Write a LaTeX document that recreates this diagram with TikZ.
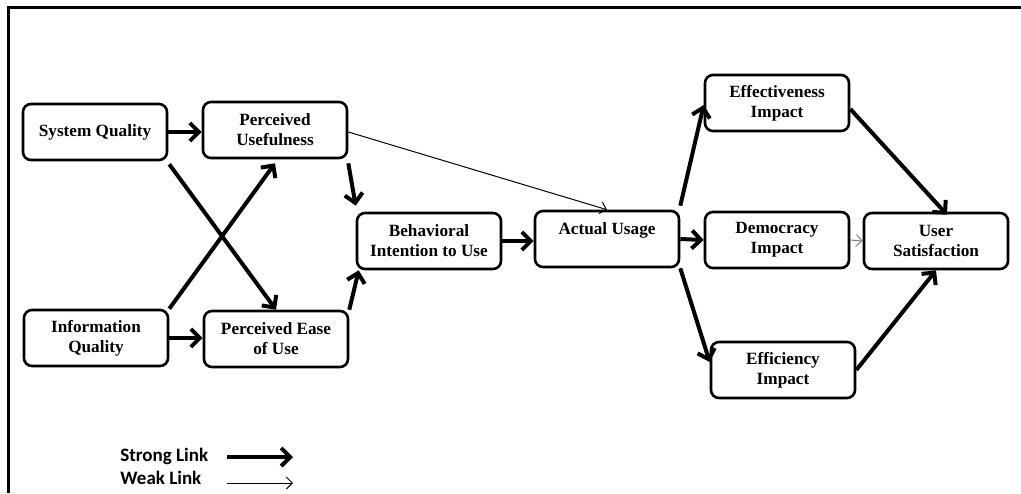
\documentclass[tikz,border=0pt]{standalone}
\usepackage{fontspec}
\setmainfont{Liberation Serif}
\newfontfamily\legendfont{Carlito}
\usetikzlibrary{arrows.meta}
\begin{document}
\begin{tikzpicture}[x=0.5pt,y=-0.5pt,
  box/.style={draw, line width=1.3pt, rounded corners=4pt, minimum width=72pt, minimum height=28pt,
    align=center, inner sep=1pt, font=\fontsize{8.6}{10}\selectfont\bfseries},
  strong/.style={line width=2pt, -{Straight Barb[length=4.5pt,width=9pt,line width=2pt]}},
  weak/.style={line width=0.5pt, -{Straight Barb[length=3pt,width=6pt,line width=0.5pt]}},
  legtext/.style={anchor=west, inner sep=0pt, font=\legendfont\fontsize{9.5}{11}\selectfont\bfseries}]
\useasboundingbox (0,0) rectangle (1021,493);
% frame
\draw[line width=1.5pt] (8,493) -- (8,7) -- (1021,7);
% nodes
\node[box] (sq) at (95,132) {System Quality};
\node[box] (pu) at (275,130) {Perceived\\Usefulness};
\node[box] (iq) at (96,338) {Information\\Quality};
\node[box] (peou) at (276,339) {Perceived Ease\\of Use};
\node[box] (bi) at (429,241) {Behavioral\\Intention to Use};
\node[box] (au) at (607,239) {Actual Usage\\\mbox{}};
\node[box] (eff) at (777,103) {Effectiveness\\Impact};
\node[box] (dem) at (777,240) {Democracy\\Impact};
\node[box] (us) at (936,241) {User\\Satisfaction};
\node[box] (effi) at (783,370) {Efficiency\\Impact};
% connectors
\draw[strong] (sq.east) -- (sq.east -| pu.west);
\draw[strong] (iq.east) -- (iq.east -| peou.west);
\draw[strong] ([shift={(1,3)}]sq.south east) -- (peou.north);
\draw[strong] (iq.north east) -- ([yshift=-2pt]pu.south);
\draw[strong] ([yshift=-2pt]pu.south east) -- ([yshift=3pt]bi.north west);
\draw[strong] (peou.north east) -- ([xshift=1.5pt]bi.south west);
\draw[weak] ([yshift=-1pt]pu.east) -- (au.north);
\draw[strong] (bi.east) -- (bi.east -| au.west);
\draw[strong] ([yshift=2pt]au.north east) -- ([yshift=-1pt]eff.west);
\draw[strong] (au.east) -- (dem.west);
\draw[strong] (au.south east) -- ([yshift=4pt]effi.west);
\draw[strong] ([yshift=-3pt]eff.east) -- ([shift={(11,3)}]us.north);
\draw[weak, gray] (dem.east) -- (us.west);
\draw[strong] (effi.east) -- (us.south);
% legend
\node[legtext] (lgs) at (120,456) {Strong Link};
\node[legtext] (lgw) at (120,478) {Weak Link};
\coordinate (s1) at (227,457);
\coordinate (s2) at (293,457);
\coordinate (w1) at (227,483);
\coordinate (w2) at (293,483);
\draw[strong] (s1) -- (s2);
\draw[weak] (w1) -- (w2);
\end{tikzpicture}
\end{document}
